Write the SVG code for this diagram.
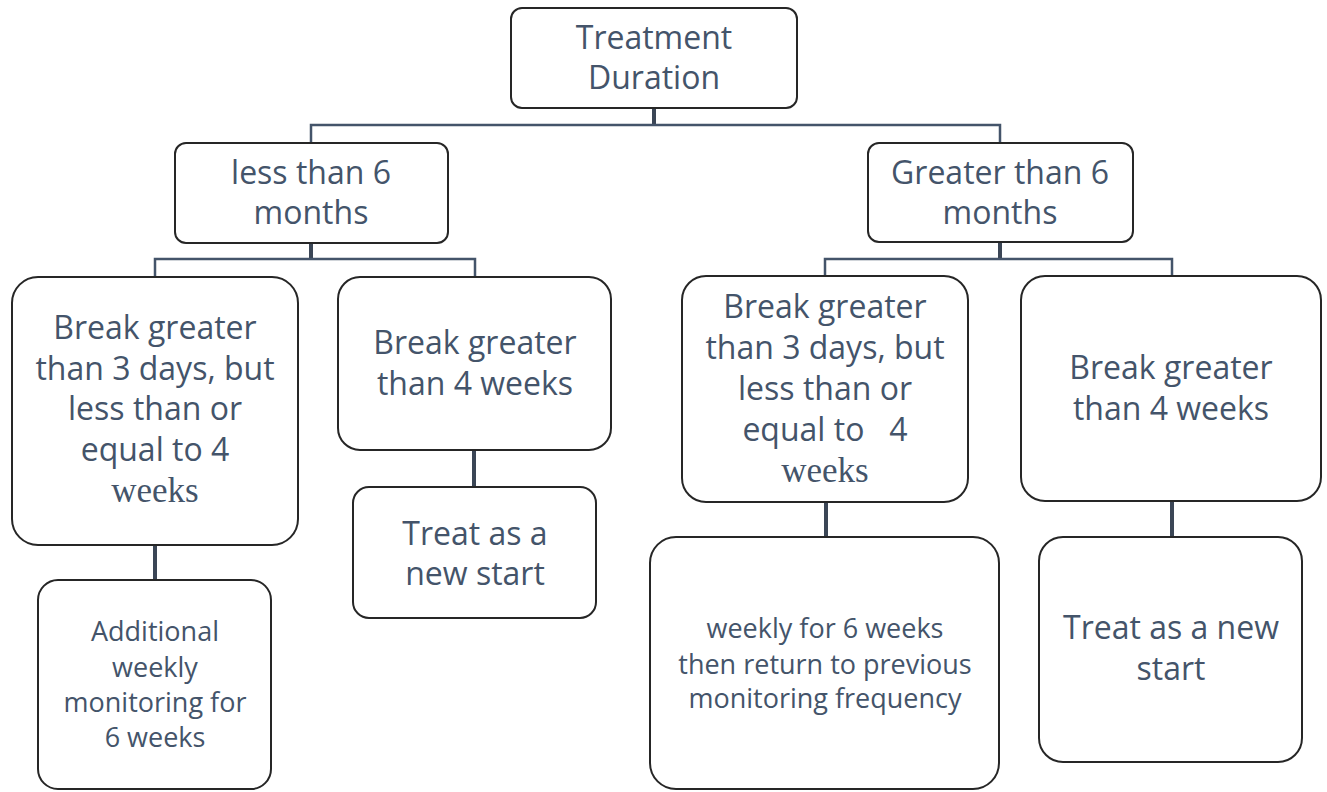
<svg xmlns="http://www.w3.org/2000/svg" width="1327" height="792" viewBox="0 0 1327 792">
<style>
.box{fill:#fff;stroke:#262626;stroke-width:2}
.sh{fill:none;stroke:#1a1a1a;stroke-width:2}
.t{font-family:"Open Sans","Liberation Sans",sans-serif;font-size:32px;fill:#44546A;text-anchor:middle}
.s{font-size:27px}
.serif{font-family:"Liberation Serif",serif;font-size:35px}
.c{fill:none;stroke:#44546A;stroke-width:2.5}
.ct{fill:none;stroke:#3B4656;stroke-width:4}
</style>
<rect width="1327" height="792" fill="#fff"/>
<g id="connectors">
<path class="ct" d="M654 108V126"/>
<path class="c" d="M311 143V125H1000V143"/>
<path class="ct" d="M311 243V259"/>
<path class="c" d="M155 277V259H475V277"/>
<path class="ct" d="M1000 242V259"/>
<path class="c" d="M825 276V259H1172V276"/>
<path class="ct" d="M155 545V580"/>
<path class="ct" d="M474 450V487"/>
<path class="ct" d="M826 502V537"/>
<path class="ct" d="M1172 501V537"/>
</g>
<g id="root">
<rect class="box" x="511" y="8" width="286" height="100" rx="11"/>
<text class="t" x="654" y="49">Treatment</text>
<text class="t" x="654" y="89">Duration</text>
</g>
<g id="less6">
<rect class="box" x="175" y="143" width="273" height="100" rx="11"/>
<text class="t" x="311" y="184">less than 6</text>
<text class="t" x="311" y="224">months</text>
</g>
<g id="greater6">
<rect class="box" x="868" y="143" width="265" height="99" rx="11"/>
<text class="t" x="1000" y="184">Greater than 6</text>
<text class="t" x="1000" y="224">months</text>
</g>
<g id="l-break3">
<rect class="box" x="12" y="277" width="286" height="268" rx="26"/>
<text class="t" x="155" y="339">Break greater</text>
<text class="t" x="155" y="380">than 3 days, but</text>
<text class="t" x="155" y="420">less than or</text>
<text class="t" x="155" y="461">equal to 4</text>
<text class="t serif" x="155" y="502">weeks</text>
</g>
<g id="l-break4">
<rect class="box" x="338" y="277" width="273" height="173" rx="22"/>
<text class="t" x="475" y="354">Break greater</text>
<text class="t" x="475" y="395">than 4 weeks</text>
</g>
<g id="l-additional">
<rect class="box" x="38" y="580" width="233" height="209" rx="20"/>
<text class="t s" x="155" y="641">Additional</text>
<text class="t s" x="155" y="677">weekly</text>
<text class="t s" x="155" y="712">monitoring for</text>
<text class="t s" x="155" y="747">6 weeks</text>
</g>
<g id="l-newstart">
<rect class="box" x="353" y="487" width="243" height="131" rx="16"/>
<text class="t" x="475" y="545">Treat as a</text>
<text class="t" x="475" y="585">new start</text>
</g>
<g id="r-break3">
<rect class="box" x="682" y="276" width="286" height="226" rx="24"/>
<text class="t" x="825" y="318">Break greater</text>
<text class="t" x="825" y="359">than 3 days, but</text>
<text class="t" x="825" y="400">less than or</text>
<text class="t" x="825" y="441" xml:space="preserve">equal to   4</text>
<text class="t serif" x="825" y="482">weeks</text>
</g>
<g id="r-break4">
<rect class="box" x="1021" y="276" width="300" height="225" rx="24"/>
<text class="t" x="1171" y="379">Break greater</text>
<text class="t" x="1171" y="420">than 4 weeks</text>
</g>
<g id="r-weekly">
<rect class="box" x="650" y="537" width="349" height="252" rx="26"/>
<text class="t s" x="825" y="638">weekly for 6 weeks</text>
<text class="t s" x="825" y="674">then return to previous</text>
<text class="t s" x="825" y="708">monitoring frequency</text>
</g>
<g id="r-newstart">
<rect class="box" x="1039" y="537" width="263" height="225" rx="24"/>
<text class="t" x="1171" y="639">Treat as a new</text>
<text class="t" x="1171" y="680">start</text>
</g>
</svg>
